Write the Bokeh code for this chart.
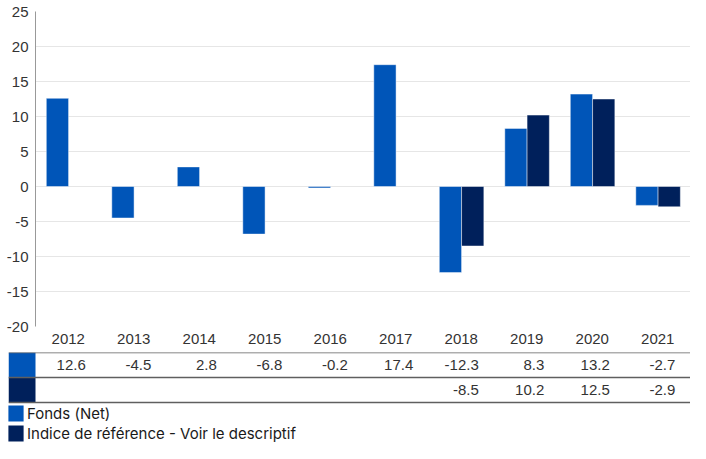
from bokeh.plotting import figure
from bokeh.models import (FactorRange, Range1d, ColumnDataSource, Legend, LegendItem,
                          FixedTicker)
from bokeh.layouts import column
from bokeh.transform import dodge
from bokeh.core.properties import value
from bokeh.embed import file_html
from bokeh.resources import INLINE

# ---------------- data ----------------
years = ["2012", "2013", "2014", "2015", "2016", "2017", "2018", "2019", "2020", "2021"]
fonds = [12.6, -4.5, 2.8, -6.8, -0.2, 17.4, -12.3, 8.3, 13.2, -2.7]
indice = [None, None, None, None, None, None, -8.5, 10.2, 12.5, -2.9]
y_ticks = [-20, -15, -10, -5, 0, 5, 10, 15, 20, 25]
series_names = ["Fonds (Net)", "Indice de référence - Voir le descriptif"]

# ---------------- styles ----------------
C_FONDS = "#0055b8"
C_INDICE = "#00205b"
TXT = "#333333"
FONT = "Liberation Sans"
W = 690
LEFT = 35          # chart frame left edge
TLEFT = 8          # table left edge
FIG1_H = 352
TABLE_H = 50
LEG_H = 41

fx = FactorRange(factors=years, range_padding=0)

p = figure(x_range=fx, y_range=Range1d(-20, 25), width=W, height=FIG1_H,
           output_backend="svg", toolbar_location=None,
           min_border_left=LEFT, min_border_right=0, min_border_top=11,
           min_border_bottom=26)
p.frame_align = False
p.outline_line_color = None
p.background_fill_color = "white"
p.border_fill_color = "white"

src_f = ColumnDataSource(dict(x=years, y=fonds))
iy = [y for y, v in zip(years, indice) if v is not None]
iv = [v for v in indice if v is not None]
src_i = ColumnDataSource(dict(x=iy, y=iv))

p.vbar(x=dodge("x", -0.165, range=fx), top="y", bottom=0, width=0.34, source=src_f,
       fill_color=C_FONDS, line_color="white", line_alpha=0.45, line_width=1)
p.vbar(x=dodge("x", 0.175, range=fx), top="y", bottom=0, width=0.34, source=src_i,
       fill_color=C_INDICE, line_color="white", line_alpha=0.45, line_width=1)

p.yaxis.ticker = FixedTicker(ticks=y_ticks)
p.yaxis.major_label_overrides = {v: str(v) for v in y_ticks}
p.yaxis.axis_line_color = "#999999"
p.yaxis.major_tick_line_color = None
p.yaxis.minor_tick_line_color = None
p.yaxis.major_tick_out = 0
p.yaxis.major_label_text_font = FONT
p.yaxis.major_label_text_font_size = "15px"
p.yaxis.major_label_text_color = TXT
p.yaxis.major_label_standoff = 7

p.xaxis.axis_line_color = None
p.xaxis.major_tick_line_color = None
p.xaxis.minor_tick_line_color = None
p.xaxis.major_tick_out = 0
p.xaxis.major_label_standoff = 7
p.xaxis.major_label_text_font = FONT
p.xaxis.major_label_text_font_size = "15px"
p.xaxis.major_label_text_color = TXT

p.xgrid.grid_line_color = None
p.ygrid.grid_line_color = "#e6e6e6"
p.ygrid.ticker = FixedTicker(ticks=y_ticks)

# ---------------- table + legend ----------------
n = len(years)
px_per_unit = (W - LEFT) / n
x_start = -(LEFT - TLEFT) / px_per_unit
y_start = -2.0 * LEG_H / TABLE_H
t = figure(x_range=Range1d(x_start, n), y_range=Range1d(y_start, 2), width=W,
           height=TABLE_H + LEG_H, output_backend="svg", toolbar_location=None,
           min_border=0, min_border_left=TLEFT, min_border_right=0,
           min_border_top=0, min_border_bottom=0,
           x_axis_location=None, y_axis_location=None)
t.frame_align = False
t.outline_line_color = None
t.grid.visible = False
t.border_fill_color = "white"
t.background_fill_color = "white"

sw_f = t.quad(left=[x_start], right=[0], top=[2], bottom=[1], fill_color=C_FONDS, line_color=None)
sw_i = t.quad(left=[x_start], right=[0], top=[1], bottom=[0], fill_color=C_INDICE, line_color=None)

t.segment(x0=[x_start] * 3, x1=[n] * 3, y0=[2, 1, 0], y1=[2, 1, 0],
          line_color="#5f5f5f", line_width=1.4)

OFF = 17.5 / px_per_unit
tf = ColumnDataSource(dict(x=[i + 0.5 + OFF for i in range(n)], y=[1.5] * n,
                           t=[f"{v:.1f}" for v in fonds]))
ti = ColumnDataSource(dict(x=[years.index(y) + 0.5 + OFF for y in iy], y=[0.5] * len(iv),
                           t=[f"{v:.1f}" for v in iv]))
for s in (tf, ti):
    t.text(x="x", y="y", text="t", source=s, text_align="right", text_baseline="middle",
           text_font=value(FONT), text_font_size="15px", text_color=TXT)

legend = Legend(items=[LegendItem(label=series_names[0], renderers=[sw_f]),
                       LegendItem(label=series_names[1], renderers=[sw_i])],
                orientation="vertical", location=(-2, 0),
                glyph_width=19, glyph_height=20, label_height=20, label_width=10,
                spacing=0, padding=0, margin=0, label_standoff=2,
                label_text_font="Inter", label_text_font_size="15px",
                label_text_color="#1a1a1a", border_line_color=None,
                background_fill_alpha=0)
t.add_layout(legend)

layout = column(p, t, spacing=0)
open("out.html", "w").write(file_html(layout, INLINE))
